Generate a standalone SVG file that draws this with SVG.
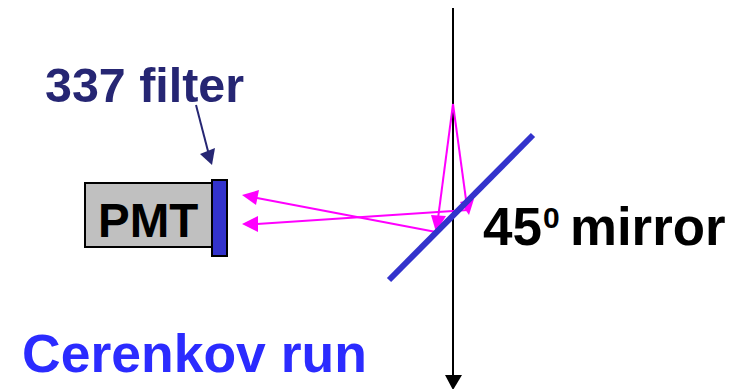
<svg xmlns="http://www.w3.org/2000/svg" width="735" height="389" viewBox="0 0 735 389">
<style>
text{font-family:"Liberation Sans",Arial,sans-serif;font-weight:bold}
.m{stroke:#ff00ff;stroke-width:2;fill:none}
.h{fill:#ff00ff}
</style>
<rect width="735" height="389" fill="#fff"/>
<g id="connectors">
<path d="M453 8V378" stroke="#000" stroke-width="2" fill="none"/>
<path d="M445 375H462L453 390Z" fill="#000"/>
<path d="M196 105L209 155" stroke="#262673" stroke-width="2" fill="none"/>
<path d="M200 154L215 148L212 165Z" fill="#262673"/>
<path class="m" d="M453 104L437 226"/>
<path class="m" d="M436 232L257 198"/>
<path class="m" d="M453 104L467 207"/>
<path class="m" d="M468 210L257 224"/>
<path class="h" d="M242 195L259 190L256 205Z"/>
<path class="h" d="M242 224L258 216L258 232Z"/>
<path class="h" d="M431 215L446 216L436 232Z"/>
<path class="h" d="M460 202L474 199L469 215Z"/>
</g>
<g id="pmt">
<rect x="85" y="183" width="127" height="64" fill="#c0c0c0" stroke="#000" stroke-width="2"/>
<text x="98" y="237" font-size="47.5" fill="#000">PMT</text>
</g>
<g id="filter">
<rect x="212" y="180" width="15" height="76" fill="#3333cc" stroke="#000" stroke-width="2"/>
<text x="45" y="102" font-size="48.4" fill="#262673">337 filter</text>
</g>
<g id="mirror">
<path d="M389 280L533 135" stroke="#3333cc" stroke-width="6" fill="none"/>
<text x="483" y="244.500" font-size="53" fill="#000">45</text>
<text x="543" y="228" font-size="30" fill="#000">0</text>
<text x="570" y="244.500" font-size="52.8" fill="#000">mirror</text>
</g>
<g id="label">
<text x="22" y="372" font-size="53.5" fill="#2b2bff">Cerenkov run</text>
</g>
</svg>
